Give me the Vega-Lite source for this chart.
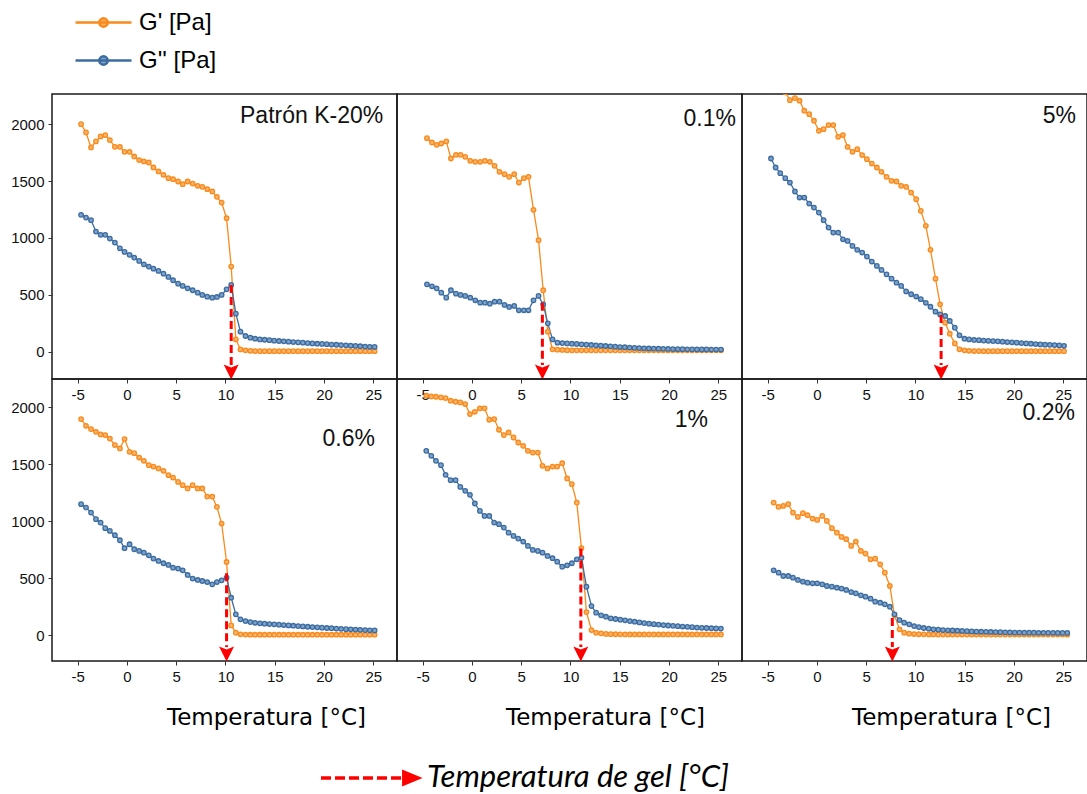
{
  "$schema": "https://vega.github.io/schema/vega-lite/v6.json",
  "background": "white",
  "padding": {"left": 9, "top": 7, "right": 0, "bottom": 0},
  "columns": 3,
  "spacing": 0,
  "bounds": "flush",
  "config": {
    "view": {"stroke": "#1a1a1a", "strokeWidth": 1.5},
    "axis": {"labelFont": "Liberation Sans", "labelFontSize": 15, "labelColor": "#111", "tickColor": "#333", "tickSize": 4, "labelPadding": 4, "domain": false, "grid": false, "labelFlush": false, "labelOverlap": false},
    "text": {"font": "Liberation Sans", "fontSize": 23, "color": "#111"}
  },
  "datasets": {
    "d": [
      {"p":"A","T":-4.65,"Gp":2000,"Gpp":1203},{"p":"A","T":-4.15,"Gp":1927,"Gpp":1179},{"p":"A","T":-3.64,"Gp":1795,"Gpp":1156},{"p":"A","T":-3.14,"Gp":1848,"Gpp":1056},{"p":"A","T":-2.67,"Gp":1892,"Gpp":1027},{"p":"A","T":-2.2,"Gp":1904,"Gpp":1027},{"p":"A","T":-1.73,"Gp":1860,"Gpp":994},{"p":"A","T":-1.22,"Gp":1801,"Gpp":959},{"p":"A","T":-0.71,"Gp":1801,"Gpp":909},{"p":"A","T":-0.24,"Gp":1757,"Gpp":877},{"p":"A","T":0.27,"Gp":1757,"Gpp":851},{"p":"A","T":0.74,"Gp":1716,"Gpp":827},{"p":"A","T":1.24,"Gp":1684,"Gpp":798},{"p":"A","T":1.72,"Gp":1672,"Gpp":768},{"p":"A","T":2.22,"Gp":1663,"Gpp":748},{"p":"A","T":2.69,"Gp":1619,"Gpp":730},{"p":"A","T":3.2,"Gp":1584,"Gpp":710},{"p":"A","T":3.71,"Gp":1555,"Gpp":686},{"p":"A","T":4.21,"Gp":1525,"Gpp":657},{"p":"A","T":4.68,"Gp":1516,"Gpp":628},{"p":"A","T":5.19,"Gp":1496,"Gpp":598},{"p":"A","T":5.66,"Gp":1472,"Gpp":578},{"p":"A","T":6.16,"Gp":1496,"Gpp":557},{"p":"A","T":6.67,"Gp":1478,"Gpp":540},{"p":"A","T":7.18,"Gp":1458,"Gpp":519},{"p":"A","T":7.65,"Gp":1449,"Gpp":499},{"p":"A","T":8.15,"Gp":1428,"Gpp":484},{"p":"A","T":8.66,"Gp":1408,"Gpp":475},{"p":"A","T":9.13,"Gp":1361,"Gpp":481},{"p":"A","T":9.61,"Gp":1311,"Gpp":499},{"p":"A","T":10.11,"Gp":1173,"Gpp":548},{"p":"A","T":10.58,"Gp":748,"Gpp":587},{"p":"A","T":11.05,"Gp":108,"Gpp":334},{"p":"A","T":11.52,"Gp":20,"Gpp":176},{"p":"A","T":12.03,"Gp":12,"Gpp":138},{"p":"A","T":12.52,"Gp":8,"Gpp":123},{"p":"A","T":13.0,"Gp":6,"Gpp":114},{"p":"A","T":13.49,"Gp":5,"Gpp":108},{"p":"A","T":13.97,"Gp":5,"Gpp":105},{"p":"A","T":14.46,"Gp":5,"Gpp":101},{"p":"A","T":14.94,"Gp":5,"Gpp":97},{"p":"A","T":15.43,"Gp":5,"Gpp":94},{"p":"A","T":15.91,"Gp":5,"Gpp":91},{"p":"A","T":16.4,"Gp":5,"Gpp":88},{"p":"A","T":16.88,"Gp":5,"Gpp":85},{"p":"A","T":17.37,"Gp":5,"Gpp":82},{"p":"A","T":17.85,"Gp":5,"Gpp":79},{"p":"A","T":18.34,"Gp":5,"Gpp":76},{"p":"A","T":18.82,"Gp":5,"Gpp":73},{"p":"A","T":19.31,"Gp":5,"Gpp":70},{"p":"A","T":19.79,"Gp":5,"Gpp":68},{"p":"A","T":20.28,"Gp":5,"Gpp":66},{"p":"A","T":20.76,"Gp":5,"Gpp":63},{"p":"A","T":21.25,"Gp":5,"Gpp":61},{"p":"A","T":21.73,"Gp":5,"Gpp":58},{"p":"A","T":22.22,"Gp":5,"Gpp":56},{"p":"A","T":22.7,"Gp":5,"Gpp":53},{"p":"A","T":23.19,"Gp":5,"Gpp":51},{"p":"A","T":23.67,"Gp":5,"Gpp":48},{"p":"A","T":24.16,"Gp":5,"Gpp":45},{"p":"A","T":24.64,"Gp":5,"Gpp":43},{"p":"A","T":25.13,"Gp":5,"Gpp":42},

      {"p":"B","T":-4.56,"Gp":1877,"Gpp":592},{"p":"B","T":-4.05,"Gp":1839,"Gpp":575},{"p":"B","T":-3.58,"Gp":1818,"Gpp":557},{"p":"B","T":-3.11,"Gp":1830,"Gpp":519},{"p":"B","T":-2.6,"Gp":1848,"Gpp":475},{"p":"B","T":-2.13,"Gp":1698,"Gpp":540},{"p":"B","T":-1.62,"Gp":1730,"Gpp":510},{"p":"B","T":-1.15,"Gp":1730,"Gpp":499},{"p":"B","T":-0.68,"Gp":1713,"Gpp":490},{"p":"B","T":-0.17,"Gp":1678,"Gpp":475},{"p":"B","T":0.34,"Gp":1669,"Gpp":452},{"p":"B","T":0.84,"Gp":1669,"Gpp":431},{"p":"B","T":1.32,"Gp":1678,"Gpp":431},{"p":"B","T":1.82,"Gp":1669,"Gpp":422},{"p":"B","T":2.3,"Gp":1634,"Gpp":440},{"p":"B","T":2.8,"Gp":1581,"Gpp":440},{"p":"B","T":3.31,"Gp":1560,"Gpp":411},{"p":"B","T":3.78,"Gp":1537,"Gpp":393},{"p":"B","T":4.29,"Gp":1560,"Gpp":402},{"p":"B","T":4.76,"Gp":1487,"Gpp":364},{"p":"B","T":5.27,"Gp":1525,"Gpp":364},{"p":"B","T":5.74,"Gp":1537,"Gpp":364},{"p":"B","T":6.25,"Gp":1247,"Gpp":452},{"p":"B","T":6.76,"Gp":980,"Gpp":490},{"p":"B","T":7.23,"Gp":540,"Gpp":416},{"p":"B","T":7.7,"Gp":176,"Gpp":249},{"p":"B","T":8.18,"Gp":21,"Gpp":108},{"p":"B","T":8.68,"Gp":18,"Gpp":79},{"p":"B","T":9.17,"Gp":15,"Gpp":76},{"p":"B","T":9.66,"Gp":13,"Gpp":73},{"p":"B","T":10.15,"Gp":12,"Gpp":70},{"p":"B","T":10.63,"Gp":12,"Gpp":68},{"p":"B","T":11.12,"Gp":12,"Gpp":65},{"p":"B","T":11.61,"Gp":12,"Gpp":62},{"p":"B","T":12.1,"Gp":12,"Gpp":59},{"p":"B","T":12.58,"Gp":12,"Gpp":56},{"p":"B","T":13.07,"Gp":12,"Gpp":53},{"p":"B","T":13.56,"Gp":12,"Gpp":50},{"p":"B","T":14.05,"Gp":12,"Gpp":47},{"p":"B","T":14.54,"Gp":12,"Gpp":44},{"p":"B","T":15.02,"Gp":12,"Gpp":41},{"p":"B","T":15.51,"Gp":12,"Gpp":39},{"p":"B","T":16.0,"Gp":12,"Gpp":36},{"p":"B","T":16.49,"Gp":12,"Gpp":34},{"p":"B","T":16.97,"Gp":12,"Gpp":32},{"p":"B","T":17.46,"Gp":12,"Gpp":30},{"p":"B","T":17.95,"Gp":12,"Gpp":28},{"p":"B","T":18.44,"Gp":12,"Gpp":27},{"p":"B","T":18.93,"Gp":12,"Gpp":26},{"p":"B","T":19.41,"Gp":12,"Gpp":25},{"p":"B","T":19.9,"Gp":12,"Gpp":24},{"p":"B","T":20.39,"Gp":12,"Gpp":23},{"p":"B","T":20.88,"Gp":12,"Gpp":22},{"p":"B","T":21.36,"Gp":12,"Gpp":22},{"p":"B","T":21.85,"Gp":12,"Gpp":21},{"p":"B","T":22.34,"Gp":12,"Gpp":21},{"p":"B","T":22.83,"Gp":12,"Gpp":20},{"p":"B","T":23.32,"Gp":12,"Gpp":20},{"p":"B","T":23.8,"Gp":12,"Gpp":20},{"p":"B","T":24.29,"Gp":12,"Gpp":19},{"p":"B","T":24.78,"Gp":12,"Gpp":19},{"p":"B","T":25.27,"Gp":12,"Gpp":19},

      {"p":"C","T":-4.66,"Gp":2460,"Gpp":1698},{"p":"C","T":-4.19,"Gp":2390,"Gpp":1619},{"p":"C","T":-3.72,"Gp":2330,"Gpp":1569},{"p":"C","T":-3.21,"Gp":2280,"Gpp":1525},{"p":"C","T":-2.74,"Gp":2211,"Gpp":1487},{"p":"C","T":-2.23,"Gp":2229,"Gpp":1408},{"p":"C","T":-1.76,"Gp":2206,"Gpp":1355},{"p":"C","T":-1.28,"Gp":2118,"Gpp":1355},{"p":"C","T":-0.78,"Gp":2088,"Gpp":1302},{"p":"C","T":-0.3,"Gp":2030,"Gpp":1267},{"p":"C","T":0.2,"Gp":1942,"Gpp":1223},{"p":"C","T":0.68,"Gp":1956,"Gpp":1156},{"p":"C","T":1.18,"Gp":1992,"Gpp":1091},{"p":"C","T":1.66,"Gp":1992,"Gpp":1047},{"p":"C","T":2.16,"Gp":1889,"Gpp":1047},{"p":"C","T":2.64,"Gp":1904,"Gpp":988},{"p":"C","T":3.11,"Gp":1801,"Gpp":974},{"p":"C","T":3.61,"Gp":1757,"Gpp":930},{"p":"C","T":4.09,"Gp":1780,"Gpp":895},{"p":"C","T":4.59,"Gp":1728,"Gpp":871},{"p":"C","T":5.07,"Gp":1692,"Gpp":836},{"p":"C","T":5.57,"Gp":1654,"Gpp":792},{"p":"C","T":6.08,"Gp":1619,"Gpp":754},{"p":"C","T":6.55,"Gp":1581,"Gpp":719},{"p":"C","T":7.06,"Gp":1537,"Gpp":680},{"p":"C","T":7.57,"Gp":1502,"Gpp":642},{"p":"C","T":8.07,"Gp":1496,"Gpp":607},{"p":"C","T":8.55,"Gp":1458,"Gpp":578},{"p":"C","T":9.05,"Gp":1449,"Gpp":530},{"p":"C","T":9.56,"Gp":1399,"Gpp":505},{"p":"C","T":10.07,"Gp":1340,"Gpp":485},{"p":"C","T":10.54,"Gp":1238,"Gpp":462},{"p":"C","T":11.05,"Gp":1106,"Gpp":430},{"p":"C","T":11.52,"Gp":895,"Gpp":395},{"p":"C","T":12.03,"Gp":642,"Gpp":352},{"p":"C","T":12.5,"Gp":416,"Gpp":328},{"p":"C","T":13.01,"Gp":255,"Gpp":314},{"p":"C","T":13.48,"Gp":158,"Gpp":270},{"p":"C","T":13.99,"Gp":73,"Gpp":211},{"p":"C","T":14.46,"Gp":21,"Gpp":144},{"p":"C","T":14.97,"Gp":12,"Gpp":114},{"p":"C","T":15.44,"Gp":8,"Gpp":108},{"p":"C","T":15.95,"Gp":6,"Gpp":103},{"p":"C","T":16.43,"Gp":6,"Gpp":101},{"p":"C","T":16.91,"Gp":5,"Gpp":98},{"p":"C","T":17.39,"Gp":5,"Gpp":96},{"p":"C","T":17.87,"Gp":5,"Gpp":93},{"p":"C","T":18.35,"Gp":5,"Gpp":91},{"p":"C","T":18.83,"Gp":5,"Gpp":88},{"p":"C","T":19.31,"Gp":5,"Gpp":85},{"p":"C","T":19.79,"Gp":5,"Gpp":82},{"p":"C","T":20.27,"Gp":5,"Gpp":79},{"p":"C","T":20.75,"Gp":5,"Gpp":76},{"p":"C","T":21.23,"Gp":5,"Gpp":73},{"p":"C","T":21.71,"Gp":5,"Gpp":70},{"p":"C","T":22.19,"Gp":5,"Gpp":67},{"p":"C","T":22.67,"Gp":5,"Gpp":64},{"p":"C","T":23.15,"Gp":5,"Gpp":62},{"p":"C","T":23.63,"Gp":5,"Gpp":60},{"p":"C","T":24.11,"Gp":5,"Gpp":58},{"p":"C","T":24.59,"Gp":5,"Gpp":55},{"p":"C","T":25.07,"Gp":5,"Gpp":52},

      {"p":"D","T":-4.65,"Gp":1898,"Gpp":1150},{"p":"D","T":-4.15,"Gp":1839,"Gpp":1120},{"p":"D","T":-3.64,"Gp":1810,"Gpp":1076},{"p":"D","T":-3.14,"Gp":1786,"Gpp":1018},{"p":"D","T":-2.67,"Gp":1763,"Gpp":988},{"p":"D","T":-2.2,"Gp":1757,"Gpp":939},{"p":"D","T":-1.73,"Gp":1727,"Gpp":915},{"p":"D","T":-1.22,"Gp":1669,"Gpp":877},{"p":"D","T":-0.71,"Gp":1640,"Gpp":833},{"p":"D","T":-0.24,"Gp":1722,"Gpp":763},{"p":"D","T":0.27,"Gp":1610,"Gpp":798},{"p":"D","T":0.74,"Gp":1598,"Gpp":754},{"p":"D","T":1.24,"Gp":1560,"Gpp":739},{"p":"D","T":1.72,"Gp":1531,"Gpp":724},{"p":"D","T":2.22,"Gp":1493,"Gpp":701},{"p":"D","T":2.69,"Gp":1481,"Gpp":672},{"p":"D","T":3.2,"Gp":1464,"Gpp":651},{"p":"D","T":3.71,"Gp":1443,"Gpp":631},{"p":"D","T":4.21,"Gp":1405,"Gpp":616},{"p":"D","T":4.68,"Gp":1384,"Gpp":592},{"p":"D","T":5.19,"Gp":1346,"Gpp":584},{"p":"D","T":5.66,"Gp":1317,"Gpp":569},{"p":"D","T":6.16,"Gp":1288,"Gpp":528},{"p":"D","T":6.67,"Gp":1317,"Gpp":496},{"p":"D","T":7.18,"Gp":1288,"Gpp":484},{"p":"D","T":7.65,"Gp":1288,"Gpp":475},{"p":"D","T":8.15,"Gp":1217,"Gpp":466},{"p":"D","T":8.66,"Gp":1217,"Gpp":446},{"p":"D","T":9.13,"Gp":1126,"Gpp":466},{"p":"D","T":9.61,"Gp":980,"Gpp":481},{"p":"D","T":10.11,"Gp":642,"Gpp":504},{"p":"D","T":10.58,"Gp":85,"Gpp":328},{"p":"D","T":11.05,"Gp":21,"Gpp":182},{"p":"D","T":11.52,"Gp":6,"Gpp":138},{"p":"D","T":12.03,"Gp":4,"Gpp":123},{"p":"D","T":12.52,"Gp":3,"Gpp":114},{"p":"D","T":13.0,"Gp":3,"Gpp":108},{"p":"D","T":13.49,"Gp":3,"Gpp":103},{"p":"D","T":13.97,"Gp":3,"Gpp":100},{"p":"D","T":14.46,"Gp":3,"Gpp":97},{"p":"D","T":14.94,"Gp":3,"Gpp":94},{"p":"D","T":15.43,"Gp":3,"Gpp":91},{"p":"D","T":15.91,"Gp":3,"Gpp":88},{"p":"D","T":16.4,"Gp":3,"Gpp":85},{"p":"D","T":16.88,"Gp":3,"Gpp":82},{"p":"D","T":17.37,"Gp":3,"Gpp":79},{"p":"D","T":17.85,"Gp":3,"Gpp":76},{"p":"D","T":18.34,"Gp":3,"Gpp":73},{"p":"D","T":18.82,"Gp":3,"Gpp":70},{"p":"D","T":19.31,"Gp":3,"Gpp":68},{"p":"D","T":19.79,"Gp":3,"Gpp":65},{"p":"D","T":20.28,"Gp":3,"Gpp":62},{"p":"D","T":20.76,"Gp":3,"Gpp":60},{"p":"D","T":21.25,"Gp":3,"Gpp":57},{"p":"D","T":21.73,"Gp":3,"Gpp":55},{"p":"D","T":22.22,"Gp":3,"Gpp":52},{"p":"D","T":22.7,"Gp":3,"Gpp":50},{"p":"D","T":23.19,"Gp":3,"Gpp":48},{"p":"D","T":23.67,"Gp":3,"Gpp":46},{"p":"D","T":24.16,"Gp":3,"Gpp":44},{"p":"D","T":24.64,"Gp":3,"Gpp":42},{"p":"D","T":25.13,"Gp":3,"Gpp":41},

      {"p":"E","T":-4.63,"Gp":2103,"Gpp":1619},{"p":"E","T":-4.12,"Gp":2097,"Gpp":1575},{"p":"E","T":-3.65,"Gp":2094,"Gpp":1531},{"p":"E","T":-3.14,"Gp":2088,"Gpp":1493},{"p":"E","T":-2.67,"Gp":2082,"Gpp":1408},{"p":"E","T":-2.16,"Gp":2059,"Gpp":1361},{"p":"E","T":-1.66,"Gp":2050,"Gpp":1361},{"p":"E","T":-1.18,"Gp":2044,"Gpp":1302},{"p":"E","T":-0.68,"Gp":2030,"Gpp":1267},{"p":"E","T":-0.2,"Gp":1942,"Gpp":1232},{"p":"E","T":0.3,"Gp":1962,"Gpp":1156},{"p":"E","T":0.81,"Gp":1992,"Gpp":1091},{"p":"E","T":1.28,"Gp":1992,"Gpp":1047},{"p":"E","T":1.76,"Gp":1892,"Gpp":1047},{"p":"E","T":2.26,"Gp":1898,"Gpp":988},{"p":"E","T":2.74,"Gp":1804,"Gpp":974},{"p":"E","T":3.24,"Gp":1757,"Gpp":944},{"p":"E","T":3.72,"Gp":1780,"Gpp":900},{"p":"E","T":4.22,"Gp":1736,"Gpp":871},{"p":"E","T":4.7,"Gp":1692,"Gpp":848},{"p":"E","T":5.2,"Gp":1663,"Gpp":821},{"p":"E","T":5.68,"Gp":1619,"Gpp":783},{"p":"E","T":6.18,"Gp":1604,"Gpp":748},{"p":"E","T":6.69,"Gp":1604,"Gpp":739},{"p":"E","T":7.16,"Gp":1487,"Gpp":724},{"p":"E","T":7.67,"Gp":1464,"Gpp":695},{"p":"E","T":8.18,"Gp":1481,"Gpp":675},{"p":"E","T":8.65,"Gp":1481,"Gpp":645},{"p":"E","T":9.16,"Gp":1510,"Gpp":601},{"p":"E","T":9.66,"Gp":1376,"Gpp":613},{"p":"E","T":10.14,"Gp":1326,"Gpp":631},{"p":"E","T":10.64,"Gp":1164,"Gpp":666},{"p":"E","T":11.11,"Gp":763,"Gpp":680},{"p":"E","T":11.62,"Gp":202,"Gpp":425},{"p":"E","T":12.13,"Gp":44,"Gpp":255},{"p":"E","T":12.6,"Gp":21,"Gpp":197},{"p":"E","T":13.11,"Gp":15,"Gpp":173},{"p":"E","T":13.6,"Gp":10,"Gpp":161},{"p":"E","T":14.08,"Gp":8,"Gpp":147},{"p":"E","T":14.57,"Gp":7,"Gpp":141},{"p":"E","T":15.05,"Gp":6,"Gpp":135},{"p":"E","T":15.54,"Gp":5,"Gpp":129},{"p":"E","T":16.03,"Gp":5,"Gpp":123},{"p":"E","T":16.51,"Gp":5,"Gpp":117},{"p":"E","T":17.0,"Gp":5,"Gpp":111},{"p":"E","T":17.48,"Gp":5,"Gpp":105},{"p":"E","T":17.97,"Gp":5,"Gpp":100},{"p":"E","T":18.46,"Gp":5,"Gpp":96},{"p":"E","T":18.94,"Gp":5,"Gpp":92},{"p":"E","T":19.43,"Gp":5,"Gpp":88},{"p":"E","T":19.91,"Gp":5,"Gpp":84},{"p":"E","T":20.4,"Gp":5,"Gpp":81},{"p":"E","T":20.89,"Gp":5,"Gpp":78},{"p":"E","T":21.37,"Gp":5,"Gpp":75},{"p":"E","T":21.86,"Gp":5,"Gpp":72},{"p":"E","T":22.34,"Gp":5,"Gpp":69},{"p":"E","T":22.83,"Gp":5,"Gpp":66},{"p":"E","T":23.32,"Gp":5,"Gpp":64},{"p":"E","T":23.8,"Gp":5,"Gpp":62},{"p":"E","T":24.29,"Gp":5,"Gpp":60},{"p":"E","T":24.77,"Gp":5,"Gpp":58},{"p":"E","T":25.26,"Gp":5,"Gpp":57},

      {"p":"F","T":-4.39,"Gp":1164,"Gpp":569},{"p":"F","T":-3.89,"Gp":1126,"Gpp":548},{"p":"F","T":-3.41,"Gp":1135,"Gpp":519},{"p":"F","T":-2.91,"Gp":1150,"Gpp":519},{"p":"F","T":-2.43,"Gp":1076,"Gpp":504},{"p":"F","T":-1.93,"Gp":1038,"Gpp":484},{"p":"F","T":-1.42,"Gp":1071,"Gpp":469},{"p":"F","T":-0.95,"Gp":1053,"Gpp":460},{"p":"F","T":-0.44,"Gp":1024,"Gpp":455},{"p":"F","T":0.03,"Gp":1012,"Gpp":455},{"p":"F","T":0.54,"Gp":1047,"Gpp":446},{"p":"F","T":1.01,"Gp":1003,"Gpp":431},{"p":"F","T":1.52,"Gp":939,"Gpp":425},{"p":"F","T":2.03,"Gp":900,"Gpp":416},{"p":"F","T":2.5,"Gp":862,"Gpp":408},{"p":"F","T":2.97,"Gp":842,"Gpp":396},{"p":"F","T":3.48,"Gp":783,"Gpp":378},{"p":"F","T":3.95,"Gp":821,"Gpp":367},{"p":"F","T":4.46,"Gp":739,"Gpp":349},{"p":"F","T":4.93,"Gp":716,"Gpp":337},{"p":"F","T":5.44,"Gp":666,"Gpp":320},{"p":"F","T":5.91,"Gp":672,"Gpp":293},{"p":"F","T":6.42,"Gp":622,"Gpp":284},{"p":"F","T":6.89,"Gp":548,"Gpp":270},{"p":"F","T":7.4,"Gp":431,"Gpp":249},{"p":"F","T":7.87,"Gp":173,"Gpp":182},{"p":"F","T":8.38,"Gp":50,"Gpp":132},{"p":"F","T":8.85,"Gp":21,"Gpp":109},{"p":"F","T":9.36,"Gp":12,"Gpp":94},{"p":"F","T":9.86,"Gp":9,"Gpp":79},{"p":"F","T":10.34,"Gp":7,"Gpp":70},{"p":"F","T":10.84,"Gp":6,"Gpp":62},{"p":"F","T":11.35,"Gp":5,"Gpp":56},{"p":"F","T":11.82,"Gp":5,"Gpp":50},{"p":"F","T":12.31,"Gp":4,"Gpp":47},{"p":"F","T":12.79,"Gp":4,"Gpp":44},{"p":"F","T":13.28,"Gp":4,"Gpp":42},{"p":"F","T":13.76,"Gp":4,"Gpp":40},{"p":"F","T":14.25,"Gp":4,"Gpp":38},{"p":"F","T":14.73,"Gp":4,"Gpp":36},{"p":"F","T":15.22,"Gp":4,"Gpp":34},{"p":"F","T":15.7,"Gp":4,"Gpp":32},{"p":"F","T":16.19,"Gp":4,"Gpp":30},{"p":"F","T":16.67,"Gp":4,"Gpp":29},{"p":"F","T":17.16,"Gp":4,"Gpp":28},{"p":"F","T":17.64,"Gp":4,"Gpp":27},{"p":"F","T":18.13,"Gp":4,"Gpp":26},{"p":"F","T":18.61,"Gp":4,"Gpp":25},{"p":"F","T":19.1,"Gp":4,"Gpp":24},{"p":"F","T":19.58,"Gp":4,"Gpp":23},{"p":"F","T":20.07,"Gp":4,"Gpp":22},{"p":"F","T":20.55,"Gp":4,"Gpp":22},{"p":"F","T":21.04,"Gp":4,"Gpp":21},{"p":"F","T":21.52,"Gp":4,"Gpp":21},{"p":"F","T":22.01,"Gp":4,"Gpp":21},{"p":"F","T":22.49,"Gp":4,"Gpp":20},{"p":"F","T":22.98,"Gp":4,"Gpp":20},{"p":"F","T":23.46,"Gp":4,"Gpp":20},{"p":"F","T":23.95,"Gp":4,"Gpp":20},{"p":"F","T":24.43,"Gp":4,"Gpp":19},{"p":"F","T":24.92,"Gp":4,"Gpp":19},{"p":"F","T":25.4,"Gp":3,"Gpp":19}
    ],
    "gel": [
      {"p":"A","T":10.58,"v":587},
      {"p":"B","T":7.15,"v":431},
      {"p":"C","T":12.6,"v":323},
      {"p":"D","T":10.11,"v":543},
      {"p":"E","T":11.05,"v":760},
      {"p":"F","T":7.65,"v":150}
    ]
  },
  "concat": [
    {
      "width": 345, "height": 285,
      "layer": [
        {"data": {"name": "d"}, "transform": [{"filter": "datum.p == 'A'"}, {"fold": ["Gp", "Gpp"], "as": ["s", "v"]}],
         "mark": {"type": "line", "strokeWidth": 1.3, "clip": true},
         "encoding": {
           "x": {"field": "T", "type": "quantitative", "scale": {"domain": [-7.6, 27.4], "nice": false, "zero": false}, "axis": {"title": null, "values": [-5,-2.5,0,2.5,5,7.5,10,12.5,15,17.5,20,22.5,25], "labelExpr": "datum.value % 5 == 0 ? '' + datum.value : ''"}},
           "y": {"field": "v", "type": "quantitative", "scale": {"domain": [-240, 2265], "nice": false, "zero": false}, "axis": {"title": null, "values": [0,250,500,750,1000,1250,1500,1750,2000,2250], "labelExpr": "datum.value % 500 == 0 ? '' + datum.value : ''"}},
           "color": {"field": "s", "type": "nominal", "scale": {"domain": ["Gp", "Gpp"], "range": ["#F98A1B", "#3C6C9F"]},
             "legend": {"title": null, "orient": "none", "legendX": 36, "legendY": -87, "direction": "vertical",
               "symbolType": "M-2,0L2,0M-0.3,0A0.3,0.3,0,1,1,0.3,0A0.3,0.3,0,1,1,-0.3,0Z",
               "symbolSize": 784, "symbolStrokeWidth": 2.5, "labelFont": "Liberation Sans", "labelFontSize": 24, "labelColor": "#000", "labelOffset": 20, "rowPadding": 10,
               "labelExpr": "datum.label == 'Gp' ? \"G' [Pa]\" : \"G'' [Pa]\""}}
         }},
        {"data": {"name": "d"}, "transform": [{"filter": "datum.p == 'A'"}, {"fold": ["Gp", "Gpp"], "as": ["s", "v"]}],
         "mark": {"type": "point", "filled": false, "size": 20, "strokeWidth": 1.3, "opacity": 1, "clip": true},
         "encoding": {"x": {"field": "T", "type": "quantitative"}, "y": {"field": "v", "type": "quantitative"},
           "stroke": {"field": "s", "type": "nominal", "scale": {"domain": ["Gp", "Gpp"], "range": ["#F98A1B", "#3C6C9F"]}, "legend": null},
           "fill": {"field": "s", "type": "nominal", "scale": {"domain": ["Gp", "Gpp"], "range": ["#FBB56D", "#7DA2CC"]}, "legend": null}}},
        {"data": {"name": "gel"}, "transform": [{"filter": "datum.p == 'A'"}],
         "mark": {"type": "rule", "color": "#ff0000", "strokeWidth": 3, "strokeDash": [8, 4]},
         "encoding": {"x": {"field": "T", "type": "quantitative"}, "y": {"field": "v", "type": "quantitative"}, "y2": {"datum": -117}}},
        {"data": {"values": []},
         "mark": {"type": "rule", "color": "#ff0000", "strokeWidth": 3.5},
         "encoding": {"x": {"datum": 0}, "y": {"datum": 0}, "y2": {"datum": 0},
           "opacity": {"datum": "Temperatura de gel [°C]", "type": "ordinal", "scale": {"range": [1]},
             "legend": {"title": null, "orient": "none", "legendX": 267, "legendY": 633, "labelLimit": 500,
               "symbolType": "M-1,0L-0.796,0M-0.714,0L-0.51,0M-0.429,0L-0.224,0M-0.143,0L0.061,0M0.143,0L0.347,0M0.429,0L0.633,0M0.69,-0.12L0.98,0L0.69,0.12ZM0.69,-0.06L0.95,0M0.69,0.06L0.95,0M0.69,0L0.96,0",
               "symbolSize": 9604, "symbolStrokeWidth": 3.5, "symbolStrokeColor": "#ff0000",
               "labelFont": "Lato", "labelFontStyle": "italic", "labelFontSize": 31, "labelColor": "#000", "labelOffset": 6}}}},
        {"data": {"name": "gel"}, "transform": [{"filter": "datum.p == 'A'"}],
         "mark": {"type": "point", "shape": "M-1,-1L0,-0.6L1,-1L0,1Z", "filled": true, "color": "#ff0000", "size": 225, "opacity": 1, "strokeWidth": 0},
         "encoding": {"x": {"field": "T", "type": "quantitative"}, "y": {"datum": -178}}},
        {"data": {"values": [{}]}, "mark": {"type": "text", "align": "right", "baseline": "middle"},
         "encoding": {"x": {"datum": 26.0}, "y": {"datum": 2073}, "text": {"value": "Patrón K-20%"}}}
      ]
    },
    {
      "width": 345, "height": 285,
      "layer": [
        {"data": {"name": "d"}, "transform": [{"filter": "datum.p == 'B'"}, {"fold": ["Gp", "Gpp"], "as": ["s", "v"]}],
         "mark": {"type": "line", "strokeWidth": 1.3, "clip": true},
         "encoding": {
           "x": {"field": "T", "type": "quantitative", "scale": {"domain": [-7.6, 27.4], "nice": false, "zero": false}, "axis": {"title": null, "values": [-5,-2.5,0,2.5,5,7.5,10,12.5,15,17.5,20,22.5,25], "labelExpr": "datum.value % 5 == 0 ? '' + datum.value : ''"}},
           "y": {"field": "v", "type": "quantitative", "scale": {"domain": [-240, 2265], "nice": false, "zero": false}, "axis": null},
           "color": {"field": "s", "type": "nominal"}
         }},
        {"data": {"name": "d"}, "transform": [{"filter": "datum.p == 'B'"}, {"fold": ["Gp", "Gpp"], "as": ["s", "v"]}],
         "mark": {"type": "point", "filled": false, "size": 20, "strokeWidth": 1.3, "opacity": 1, "clip": true},
         "encoding": {"x": {"field": "T", "type": "quantitative"}, "y": {"field": "v", "type": "quantitative"}, "stroke": {"field": "s", "type": "nominal", "legend": null}, "fill": {"field": "s", "type": "nominal", "legend": null}}},
        {"data": {"name": "gel"}, "transform": [{"filter": "datum.p == 'B'"}],
         "mark": {"type": "rule", "color": "#ff0000", "strokeWidth": 3, "strokeDash": [8, 4]},
         "encoding": {"x": {"field": "T", "type": "quantitative"}, "y": {"field": "v", "type": "quantitative"}, "y2": {"datum": -117}}},
        {"data": {"name": "gel"}, "transform": [{"filter": "datum.p == 'B'"}],
         "mark": {"type": "point", "shape": "M-1,-1L0,-0.6L1,-1L0,1Z", "filled": true, "color": "#ff0000", "size": 225, "opacity": 1, "strokeWidth": 0},
         "encoding": {"x": {"field": "T", "type": "quantitative"}, "y": {"datum": -178}}},
        {"data": {"values": [{}]}, "mark": {"type": "text", "align": "right", "baseline": "middle"},
         "encoding": {"x": {"datum": 26.79}, "y": {"datum": 2047}, "text": {"value": "0.1%"}}}
      ]
    },
    {
      "width": 345, "height": 285,
      "layer": [
        {"data": {"name": "d"}, "transform": [{"filter": "datum.p == 'C'"}, {"fold": ["Gp", "Gpp"], "as": ["s", "v"]}],
         "mark": {"type": "line", "strokeWidth": 1.3, "clip": true},
         "encoding": {
           "x": {"field": "T", "type": "quantitative", "scale": {"domain": [-7.6, 27.4], "nice": false, "zero": false}, "axis": {"title": null, "values": [-5,-2.5,0,2.5,5,7.5,10,12.5,15,17.5,20,22.5,25], "labelExpr": "datum.value % 5 == 0 ? '' + datum.value : ''"}},
           "y": {"field": "v", "type": "quantitative", "scale": {"domain": [-240, 2265], "nice": false, "zero": false}, "axis": null},
           "color": {"field": "s", "type": "nominal"}
         }},
        {"data": {"name": "d"}, "transform": [{"filter": "datum.p == 'C'"}, {"fold": ["Gp", "Gpp"], "as": ["s", "v"]}],
         "mark": {"type": "point", "filled": false, "size": 20, "strokeWidth": 1.3, "opacity": 1, "clip": true},
         "encoding": {"x": {"field": "T", "type": "quantitative"}, "y": {"field": "v", "type": "quantitative"}, "stroke": {"field": "s", "type": "nominal", "legend": null}, "fill": {"field": "s", "type": "nominal", "legend": null}}},
        {"data": {"name": "gel"}, "transform": [{"filter": "datum.p == 'C'"}],
         "mark": {"type": "rule", "color": "#ff0000", "strokeWidth": 3, "strokeDash": [8, 4]},
         "encoding": {"x": {"field": "T", "type": "quantitative"}, "y": {"field": "v", "type": "quantitative"}, "y2": {"datum": -117}}},
        {"data": {"name": "gel"}, "transform": [{"filter": "datum.p == 'C'"}],
         "mark": {"type": "point", "shape": "M-1,-1L0,-0.6L1,-1L0,1Z", "filled": true, "color": "#ff0000", "size": 225, "opacity": 1, "strokeWidth": 0},
         "encoding": {"x": {"field": "T", "type": "quantitative"}, "y": {"datum": -178}}},
        {"data": {"values": [{}]}, "mark": {"type": "text", "align": "right", "baseline": "middle"},
         "encoding": {"x": {"datum": 26.28}, "y": {"datum": 2073}, "text": {"value": "5%"}}}
      ]
    },
    {
      "width": 345, "height": 282,
      "layer": [
        {"data": {"name": "d"}, "transform": [{"filter": "datum.p == 'D'"}, {"fold": ["Gp", "Gpp"], "as": ["s", "v"]}],
         "mark": {"type": "line", "strokeWidth": 1.3, "clip": true},
         "encoding": {
           "x": {"field": "T", "type": "quantitative", "scale": {"domain": [-7.6, 27.4], "nice": false, "zero": false}, "axis": {"title": "Temperatura [°C]", "titleFont": "DejaVu Sans", "titleFontSize": 23, "titleFontWeight": "normal", "titleColor": "#000", "titleX": 214, "titleY": 56, "titleBaseline": "middle", "titleAlign": "center", "values": [-5,-2.5,0,2.5,5,7.5,10,12.5,15,17.5,20,22.5,25], "labelExpr": "datum.value % 5 == 0 ? '' + datum.value : ''"}},
           "y": {"field": "v", "type": "quantitative", "scale": {"domain": [-228, 2250], "nice": false, "zero": false}, "axis": {"title": null, "values": [0,250,500,750,1000,1250,1500,1750,2000,2250], "labelExpr": "datum.value % 500 == 0 ? '' + datum.value : ''"}},
           "color": {"field": "s", "type": "nominal"}
         }},
        {"data": {"name": "d"}, "transform": [{"filter": "datum.p == 'D'"}, {"fold": ["Gp", "Gpp"], "as": ["s", "v"]}],
         "mark": {"type": "point", "filled": false, "size": 20, "strokeWidth": 1.3, "opacity": 1, "clip": true},
         "encoding": {"x": {"field": "T", "type": "quantitative"}, "y": {"field": "v", "type": "quantitative"}, "stroke": {"field": "s", "type": "nominal", "legend": null}, "fill": {"field": "s", "type": "nominal", "legend": null}}},
        {"data": {"name": "gel"}, "transform": [{"filter": "datum.p == 'D'"}],
         "mark": {"type": "rule", "color": "#ff0000", "strokeWidth": 3, "strokeDash": [8, 4]},
         "encoding": {"x": {"field": "T", "type": "quantitative"}, "y": {"field": "v", "type": "quantitative"}, "y2": {"datum": -105}}},
        {"data": {"name": "gel"}, "transform": [{"filter": "datum.p == 'D'"}],
         "mark": {"type": "point", "shape": "M-1,-1L0,-0.6L1,-1L0,1Z", "filled": true, "color": "#ff0000", "size": 225, "opacity": 1, "strokeWidth": 0},
         "encoding": {"x": {"field": "T", "type": "quantitative"}, "y": {"datum": -166}}},
        {"data": {"values": [{}]}, "mark": {"type": "text", "align": "right", "baseline": "middle"},
         "encoding": {"x": {"datum": 25.17}, "y": {"datum": 1722}, "text": {"value": "0.6%"}}}
      ]
    },
    {
      "width": 345, "height": 282,
      "layer": [
        {"data": {"name": "d"}, "transform": [{"filter": "datum.p == 'E'"}, {"fold": ["Gp", "Gpp"], "as": ["s", "v"]}],
         "mark": {"type": "line", "strokeWidth": 1.3, "clip": true},
         "encoding": {
           "x": {"field": "T", "type": "quantitative", "scale": {"domain": [-7.6, 27.4], "nice": false, "zero": false}, "axis": {"title": "Temperatura [°C]", "titleFont": "DejaVu Sans", "titleFontSize": 23, "titleFontWeight": "normal", "titleColor": "#000", "titleX": 208, "titleY": 56, "titleBaseline": "middle", "titleAlign": "center", "values": [-5,-2.5,0,2.5,5,7.5,10,12.5,15,17.5,20,22.5,25], "labelExpr": "datum.value % 5 == 0 ? '' + datum.value : ''"}},
           "y": {"field": "v", "type": "quantitative", "scale": {"domain": [-228, 2250], "nice": false, "zero": false}, "axis": null},
           "color": {"field": "s", "type": "nominal"}
         }},
        {"data": {"name": "d"}, "transform": [{"filter": "datum.p == 'E'"}, {"fold": ["Gp", "Gpp"], "as": ["s", "v"]}],
         "mark": {"type": "point", "filled": false, "size": 20, "strokeWidth": 1.3, "opacity": 1, "clip": true},
         "encoding": {"x": {"field": "T", "type": "quantitative"}, "y": {"field": "v", "type": "quantitative"}, "stroke": {"field": "s", "type": "nominal", "legend": null}, "fill": {"field": "s", "type": "nominal", "legend": null}}},
        {"data": {"name": "gel"}, "transform": [{"filter": "datum.p == 'E'"}],
         "mark": {"type": "rule", "color": "#ff0000", "strokeWidth": 3, "strokeDash": [8, 4]},
         "encoding": {"x": {"field": "T", "type": "quantitative"}, "y": {"field": "v", "type": "quantitative"}, "y2": {"datum": -105}}},
        {"data": {"name": "gel"}, "transform": [{"filter": "datum.p == 'E'"}],
         "mark": {"type": "point", "shape": "M-1,-1L0,-0.6L1,-1L0,1Z", "filled": true, "color": "#ff0000", "size": 225, "opacity": 1, "strokeWidth": 0},
         "encoding": {"x": {"field": "T", "type": "quantitative"}, "y": {"datum": -166}}},
        {"data": {"values": [{}]}, "mark": {"type": "text", "align": "right", "baseline": "middle"},
         "encoding": {"x": {"datum": 23.95}, "y": {"datum": 1889}, "text": {"value": "1%"}}}
      ]
    },
    {
      "width": 345, "height": 282,
      "layer": [
        {"data": {"name": "d"}, "transform": [{"filter": "datum.p == 'F'"}, {"fold": ["Gp", "Gpp"], "as": ["s", "v"]}],
         "mark": {"type": "line", "strokeWidth": 1.3, "clip": true},
         "encoding": {
           "x": {"field": "T", "type": "quantitative", "scale": {"domain": [-7.6, 27.4], "nice": false, "zero": false}, "axis": {"title": "Temperatura [°C]", "titleFont": "DejaVu Sans", "titleFontSize": 23, "titleFontWeight": "normal", "titleColor": "#000", "titleX": 209, "titleY": 56, "titleBaseline": "middle", "titleAlign": "center", "values": [-5,-2.5,0,2.5,5,7.5,10,12.5,15,17.5,20,22.5,25], "labelExpr": "datum.value % 5 == 0 ? '' + datum.value : ''"}},
           "y": {"field": "v", "type": "quantitative", "scale": {"domain": [-228, 2250], "nice": false, "zero": false}, "axis": null},
           "color": {"field": "s", "type": "nominal"}
         }},
        {"data": {"name": "d"}, "transform": [{"filter": "datum.p == 'F'"}, {"fold": ["Gp", "Gpp"], "as": ["s", "v"]}],
         "mark": {"type": "point", "filled": false, "size": 20, "strokeWidth": 1.3, "opacity": 1, "clip": true},
         "encoding": {"x": {"field": "T", "type": "quantitative"}, "y": {"field": "v", "type": "quantitative"}, "stroke": {"field": "s", "type": "nominal", "legend": null}, "fill": {"field": "s", "type": "nominal", "legend": null}}},
        {"data": {"name": "gel"}, "transform": [{"filter": "datum.p == 'F'"}],
         "mark": {"type": "rule", "color": "#ff0000", "strokeWidth": 3, "strokeDash": [8, 4]},
         "encoding": {"x": {"field": "T", "type": "quantitative"}, "y": {"field": "v", "type": "quantitative"}, "y2": {"datum": -105}}},
        {"data": {"name": "gel"}, "transform": [{"filter": "datum.p == 'F'"}],
         "mark": {"type": "point", "shape": "M-1,-1L0,-0.6L1,-1L0,1Z", "filled": true, "color": "#ff0000", "size": 225, "opacity": 1, "strokeWidth": 0},
         "encoding": {"x": {"field": "T", "type": "quantitative"}, "y": {"datum": -166}}},
        {"data": {"values": [{}]}, "mark": {"type": "text", "align": "right", "baseline": "middle"},
         "encoding": {"x": {"datum": 26.18}, "y": {"datum": 1951}, "text": {"value": "0.2%"}}}
      ]
    }
  ]
}
